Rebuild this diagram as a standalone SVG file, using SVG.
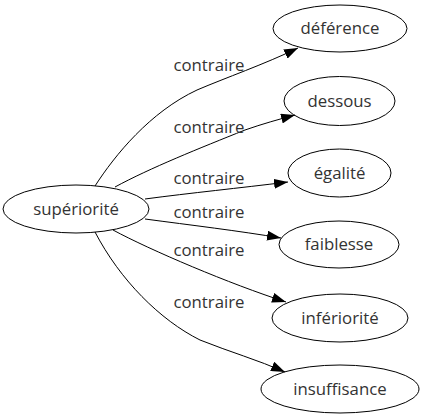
<svg xmlns="http://www.w3.org/2000/svg" width="422" height="419" viewBox="0 0 422 419">
<style>
.n ellipse{fill:none;stroke:#000;stroke-width:1}
text{font-family:"Open Sans",sans-serif;font-size:16.8px;fill:#333;text-anchor:middle}
.e path{fill:none;stroke:#000;stroke-width:1}
</style>
<defs>
<marker id="a" viewBox="0 0 14 10" refX="14" refY="5" markerWidth="14" markerHeight="10" markerUnits="userSpaceOnUse" orient="auto"><path d="M0,0L14,5L0,10z" fill="#000"/></marker>
</defs>
<rect width="422" height="419" fill="#fff"/>
<g class="e">
<path marker-end="url(#a)" d="M95,186 C115,155 150,112 197,90 C225,78 265,64 298,48"/>
<path marker-end="url(#a)" d="M115,187 C150,168 200,148 245,130 C262,124 280,119 295,115"/>
<path marker-end="url(#a)" d="M145,199 C190,193 240,188 288,182"/>
<path marker-end="url(#a)" d="M145,219 C190,225 240,231 281,238"/>
<path marker-end="url(#a)" d="M113,230 C150,250 230,284 286,302"/>
<path marker-end="url(#a)" d="M95,232 C120,280 160,320 200,340 C230,352 258,360 285,372"/>
<text x="209" y="71">contraire</text>
<text x="209" y="133">contraire</text>
<text x="209" y="184">contraire</text>
<text x="209" y="218">contraire</text>
<text x="209" y="256">contraire</text>
<text x="209" y="308">contraire</text>
</g>
<g class="n" id="superiorite"><ellipse cx="76" cy="209" rx="73" ry="24"/><text x="76" y="215">supériorité</text></g>
<g class="n" id="deference"><ellipse cx="340" cy="28.5" rx="67" ry="23.5"/><text x="340" y="34">déférence</text></g>
<g class="n" id="dessous"><ellipse cx="339.5" cy="101" rx="55.5" ry="24.5"/><text x="339.5" y="107">dessous</text></g>
<g class="n" id="egalite"><ellipse cx="339.5" cy="173" rx="51.5" ry="24"/><text x="339.5" y="179">égalité</text></g>
<g class="n" id="faiblesse"><ellipse cx="339" cy="244.5" rx="60" ry="23.5"/><text x="339" y="250">faiblesse</text></g>
<g class="n" id="inferiorite"><ellipse cx="340" cy="318" rx="68" ry="24"/><text x="340" y="324">infériorité</text></g>
<g class="n" id="insuffisance"><ellipse cx="340" cy="389" rx="79" ry="24"/><text x="340" y="395">insuffisance</text></g>
</svg>
